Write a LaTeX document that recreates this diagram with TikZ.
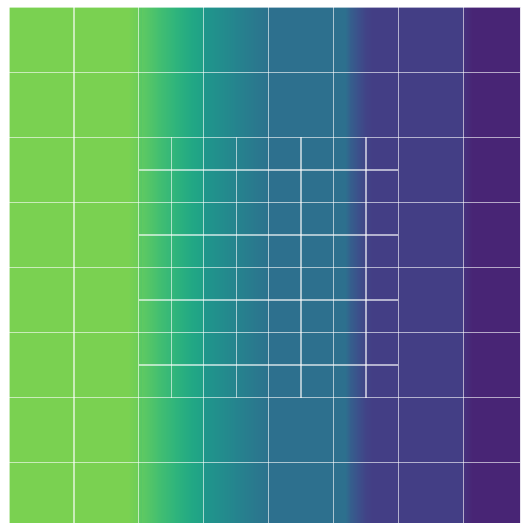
\documentclass[tikz,border=0pt]{standalone}
\definecolor{va}{HTML}{7AD151}
\definecolor{vb}{HTML}{6BCD5A}
\definecolor{vc}{HTML}{5EC962}
\definecolor{vd}{HTML}{44BF70}
\definecolor{ve}{HTML}{2FB47C}
\definecolor{vf}{HTML}{22A884}
\definecolor{vfa}{HTML}{1FA088}
\definecolor{vg}{HTML}{1F968B}
\definecolor{vga}{HTML}{21918C}
\definecolor{vh}{HTML}{25848E}
\definecolor{vha}{HTML}{2A788E}
\definecolor{vi}{HTML}{2C728E}
\definecolor{vj}{HTML}{2D708E}
\definecolor{vk}{HTML}{355F8D}
\definecolor{vl}{HTML}{3B528B}
\definecolor{vla}{HTML}{414487}
\definecolor{vm}{HTML}{433E85}
\definecolor{vn}{HTML}{46317E}
\definecolor{vo}{HTML}{482575}
\tikzset{
  gridline/.style={draw=white, draw opacity=0.6, line width=0.65pt}
}
\begin{document}
\begin{tikzpicture}[x=0.5pt,y=-0.5pt]
\useasboundingbox (0,0) rectangle (520,523);
\fill[white] (0,0) rectangle (520,523);
\begin{scope}
\clip (0,0) rectangle (520,523);
% colour field, varying with x
\fill[va] (9,7.5) rectangle (128.5,530);
\shade[left color=va, right color=vb] (128,7.5) rectangle (139.5,530);
\shade[left color=vc, right color=vc!60!vd] (139,7.5) rectangle (142.5,530);
\shade[left color=vc, right color=vd] (142,7.5) rectangle (158.5,530);
\shade[left color=vd, right color=ve] (158,7.5) rectangle (175.5,530);
\shade[left color=ve, right color=vf] (175,7.5) rectangle (191.5,530);
\shade[left color=vf, right color=vfa] (191,7.5) rectangle (204.5,530);
\shade[left color=vg, right color=vga] (204,7.5) rectangle (214.5,530);
\shade[left color=vga, right color=vh] (214,7.5) rectangle (235.5,530);
\shade[left color=vh, right color=vha] (235,7.5) rectangle (256.5,530);
\shade[left color=vha, right color=vi] (256,7.5) rectangle (268.9,530);
\fill[vj] (268.5,7.5) rectangle (345.5,530);
\shade[left color=vj, right color=vk] (345,7.5) rectangle (350.5,530);
\shade[left color=vk, right color=vl] (350,7.5) rectangle (357.5,530);
\shade[left color=vl, right color=vla] (357,7.5) rectangle (365.5,530);
\shade[left color=vla, right color=vm] (365,7.5) rectangle (372.5,530);
\fill[vm] (372,7.5) rectangle (463.5,530);
\shade[left color=vn, right color=vo] (463.3,7.5) rectangle (472.5,530);
\fill[vo] (472,7.5) rectangle (530,530);
% fine grid (refined block)
\foreach \k in {1,3,5,7} {
  \draw[gridline] ({138.8+32.45*\k},137.5) -- ({138.8+32.45*\k},397.5);
  \draw[gridline] (138.8,{137.5+32.5*\k}) -- (398.4,{137.5+32.5*\k});
}
% coarse grid
\foreach \k in {0,...,8} {
  \draw[gridline] ({9+64.9*\k},7.5) -- ({9+64.9*\k},530);
  \draw[gridline] (9,{7.5+65*\k}) -- (530,{7.5+65*\k});
}
\end{scope}
\end{tikzpicture}
\end{document}
